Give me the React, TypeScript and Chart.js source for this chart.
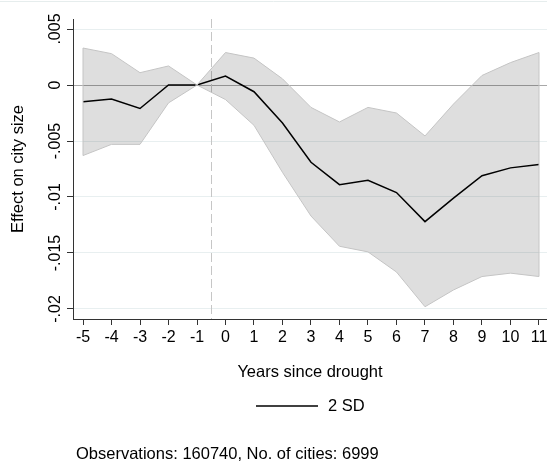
import React, { useEffect, useRef } from "react";
import { Chart, registerables } from "chart.js";

Chart.register(...registerables);

// Event-study estimates: effect of drought on city size, by year relative to drought
const years = [-5, -4, -3, -2, -1, 0, 1, 2, 3, 4, 5, 6, 7, 8, 9, 10, 11];
const effect = [-0.0015, -0.00125, -0.0021, 0.0, 0.0, 0.0008, -0.0006, -0.0034, -0.0069, -0.0089, -0.0085, -0.0096, -0.0122, -0.0101, -0.0081, -0.0074, -0.0071];
const upperBand = [0.0033, 0.0028, 0.0011, 0.0017, 0.0, 0.0029, 0.0024, 0.00055, -0.002, -0.0033, -0.002, -0.0025, -0.00455, -0.0017, 0.00085, 0.002, 0.0029];
const lowerBand = [-0.0063, -0.0053, -0.0053, -0.0016, 0.0, -0.0013, -0.0036, -0.0078, -0.0117, -0.0144, -0.0149, -0.0167, -0.0198, -0.0183, -0.0171, -0.0168, -0.0171];

const yTicks = [0.005, 0, -0.005, -0.01, -0.015, -0.02];
const yTickLabels = [".005", "0", "-.005", "-.01", "-.015", "-.02"];
const xTicks = years;

const eventLine = -0.5;
const xTitle = "Years since drought";
const yTitle = "Effect on city size";
const legendLabel = "2 SD";
const note = "Observations: 160740, No. of cities: 6999";

const FONT = "'Liberation Sans', Arial, Helvetica, sans-serif";

const pts = (vals: number[]) => years.map((x, i) => ({ x, y: vals[i] }));

export default function App() {
  const ref = useRef<HTMLCanvasElement | null>(null);

  useEffect(() => {
    document.body.style.margin = "0";
    const canvas = ref.current;
    if (!canvas) return;

    const decorations = {
      id: "decorations",
      beforeDatasetsDraw(chart: any) {
        const { ctx, chartArea, scales } = chart;
        const x = scales.x.getPixelForValue(eventLine);
        ctx.save();
        ctx.strokeStyle = "#c6c6c6";
        ctx.lineWidth = 1;
        ctx.setLineDash([9, 4]);
        ctx.beginPath();
        ctx.moveTo(Math.round(x) + 0.5, chartArea.top);
        ctx.lineTo(Math.round(x) + 0.5, chartArea.bottom);
        ctx.stroke();
        ctx.restore();
      },
      afterDatasetsDraw(chart: any) {
        const { ctx, scales } = chart;
        // closing edges of the confidence band
        ctx.save();
        ctx.strokeStyle = "#c4c4c4";
        ctx.lineWidth = 1;
        [0, years.length - 1].forEach((i) => {
          const px = scales.x.getPixelForValue(years[i]);
          ctx.beginPath();
          ctx.moveTo(px, scales.y.getPixelForValue(upperBand[i]));
          ctx.lineTo(px, scales.y.getPixelForValue(lowerBand[i]));
          ctx.stroke();
        });
        ctx.restore();
      },
      afterDraw(chart: any) {
        const { ctx, chartArea, scales, width } = chart;
        ctx.save();
        // outer frame line
        ctx.strokeStyle = "#e6eded";
        ctx.lineWidth = 1;
        ctx.beginPath();
        ctx.moveTo(0, 1.5);
        ctx.lineTo(width, 1.5);
        ctx.stroke();

        ctx.fillStyle = "#000";
        // y tick labels, rotated
        ctx.font = `16px ${FONT}`;
        ctx.textAlign = "center";
        ctx.textBaseline = "middle";
        yTicks.forEach((v, i) => {
          const py = scales.y.getPixelForValue(v);
          ctx.save();
          ctx.translate(56, py);
          ctx.rotate(-Math.PI / 2);
          ctx.fillText(yTickLabels[i], 0, 0);
          ctx.restore();
        });

        // y title
        ctx.font = `16.5px ${FONT}`;
        ctx.save();
        ctx.translate(18, (chartArea.top + chartArea.bottom) / 2);
        ctx.rotate(-Math.PI / 2);
        ctx.fillText(yTitle, 0, 0);
        ctx.restore();

        // x title
        const cx = (chartArea.left + chartArea.right) / 2;
        ctx.fillText(xTitle, cx, 372);

        // legend
        ctx.strokeStyle = "#000";
        ctx.lineWidth = 1.5;
        ctx.beginPath();
        ctx.moveTo(256, 406);
        ctx.lineTo(318, 406);
        ctx.stroke();
        ctx.textAlign = "left";
        ctx.fillText(legendLabel, 328, 406);

        // note
        ctx.fillText(note, 76, 454);
        ctx.restore();
      },
    };

    const chart = new Chart(canvas, {
      type: "line",
      data: {
        datasets: [
          {
            label: "lower",
            data: pts(lowerBand),
            borderColor: "#c4c4c4",
            borderWidth: 1,
            pointRadius: 0,
            fill: false,
            tension: 0,
          },
          {
            label: "upper",
            data: pts(upperBand),
            borderColor: "#c4c4c4",
            borderWidth: 1,
            pointRadius: 0,
            backgroundColor: "rgba(0,0,0,0.13)",
            fill: "-1",
            tension: 0,
          },
          {
            label: legendLabel,
            data: pts(effect),
            borderColor: "#000",
            borderWidth: 1.5,
            pointRadius: 0,
            fill: false,
            tension: 0,
          },
        ],
      },
      options: {
        responsive: false,
        animation: false,
        devicePixelRatio: 1,
        layout: { padding: { top: 19, left: 0, right: 0, bottom: 0 } },
        plugins: {
          legend: { display: false },
          tooltip: { enabled: false },
          title: { display: false },
        },
        scales: {
          x: {
            type: "linear",
            min: -5.351,
            max: 11.281,
            afterBuildTicks(scale: any) {
              scale.ticks = xTicks.map((v) => ({ value: v }));
            },
            afterFit(scale: any) {
              scale.height = 145;
              scale.paddingLeft = 0;
              scale.paddingRight = 0;
            },
            grid: {
              drawOnChartArea: false,
              drawTicks: true,
              tickLength: 6,
              tickColor: "#333",
            },
            border: { display: true, color: "#333", width: 1 },
            ticks: {
              autoSkip: false,
              maxRotation: 0,
              minRotation: 0,
              padding: 3,
              color: "#000",
              font: { family: FONT, size: 16 },
              callback: (v: any) => String(v),
            },
          },
          y: {
            type: "linear",
            min: -0.020893,
            max: 0.005893,
            afterBuildTicks(scale: any) {
              scale.ticks = yTicks.map((v) => ({ value: v }));
            },
            afterFit(scale: any) {
              scale.width = 73;
              scale.paddingTop = 0;
              scale.paddingBottom = 0;
            },
            grid: {
              drawOnChartArea: true,
              drawTicks: true,
              tickLength: 6,
              tickColor: "#333",
              color: (c: any) => (c.tick && c.tick.value === 0 ? "#a8a8a8" : "#e8eff0"),
              lineWidth: 1,
            },
            border: { display: true, color: "#333", width: 1 },
            ticks: { display: false },
          },
        },
      },
      plugins: [decorations],
    });

    return () => chart.destroy();
  }, []);

  return (
    <div style={{ width: 547, height: 464, background: "#fff" }}>
      <canvas ref={ref} width={547} height={464} style={{ width: 547, height: 464, display: "block" }} />
    </div>
  );
}
